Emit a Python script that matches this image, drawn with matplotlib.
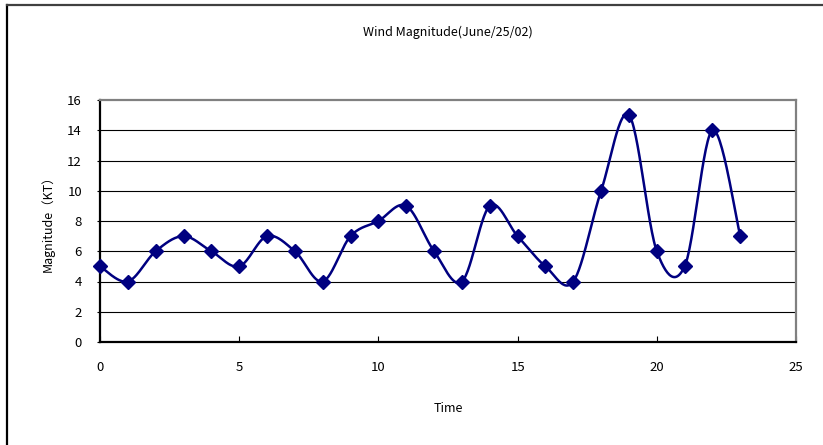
import numpy as np
import matplotlib
matplotlib.use("Agg")
import matplotlib.pyplot as plt
from matplotlib.lines import Line2D

plt.rcParams['font.family'] = ['Noto Sans CJK JP', 'DejaVu Sans']

hours = list(range(24))
magnitude = [5, 4, 6, 7, 6, 5, 7, 6, 4, 7, 8, 9, 6, 4, 9, 7, 5, 4, 10, 15, 6, 5, 14, 7]
x_ticks = [0, 5, 10, 15, 20, 25]
y_ticks = [0, 2, 4, 6, 8, 10, 12, 14, 16]


def smooth(xs, ys, n=30):
    """Catmull-Rom curve through the points (spreadsheet-style smoothed line)."""
    xs = np.asarray(xs, float)
    ys = np.asarray(ys, float)
    px = np.concatenate([[xs[0]], xs, [xs[-1]]])
    py = np.concatenate([[ys[0]], ys, [ys[-1]]])
    out_x, out_y = [], []
    t = np.linspace(0, 1, n)
    for i in range(1, len(px) - 2):
        p0, p1, p2, p3 = (np.array([px[j], py[j]]) for j in (i - 1, i, i + 1, i + 2))
        c1 = p1 + (p2 - p0) / 6
        c2 = p2 - (p3 - p1) / 6
        b = ((1 - t) ** 3)[:, None] * p1 + (3 * (1 - t) ** 2 * t)[:, None] * c1 \
            + (3 * (1 - t) * t ** 2)[:, None] * c2 + (t ** 3)[:, None] * p2
        out_x.extend(b[:, 0])
        out_y.extend(b[:, 1])
    return np.array(out_x), np.array(out_y)


W, H = 823, 445
fig = plt.figure(figsize=(W / 100, H / 100), dpi=100)
fig.patch.set_facecolor('white')

# chart frame (left and top edges)
fig.add_artist(Line2D([6.5 / W, 6.5 / W], [0, 1 - 5 / H], transform=fig.transFigure,
                      color='black', lw=1.6))
fig.add_artist(Line2D([6.5 / W, 1], [1 - 5 / H, 1 - 5 / H], transform=fig.transFigure,
                      color='#404040', lw=1.6))

ax = fig.add_axes([100 / W, (H - 342) / H, 696 / W, 242 / H])
ax.set_xlim(0, 25)
ax.set_ylim(0, 16)

for y in y_ticks[1:-1]:
    ax.axhline(y, color='black', lw=0.8, zorder=1)

sx, sy = smooth(hours, magnitude)
ax.plot(sx, sy, color='#000080', lw=1.8, zorder=3)
ax.plot(hours, magnitude, linestyle='none', marker='D', markersize=7.5,
        color='#000080', zorder=4, clip_on=False)

ax.set_xticks(x_ticks)
ax.set_yticks(y_ticks)
ax.tick_params(axis='x', direction='in', length=4, width=0.8, labelsize=9.5, pad=14)
ax.tick_params(axis='y', direction='out', length=2, width=0.8, labelsize=9.5, pad=11)

for side in ('left', 'bottom'):
    ax.spines[side].set_color('black')
    ax.spines[side].set_linewidth(1.6)
for side in ('top', 'right'):
    ax.spines[side].set_color('#808080')
    ax.spines[side].set_linewidth(1.6)

ax.set_xlabel('Time', fontsize=9, labelpad=20)
ax.set_ylabel('Magnitude（KT）', fontsize=9, labelpad=9)
fig.text(0.5 * (100 + 796) / W, 1 - 32 / H, 'Wind Magnitude(June/25/02)',
         ha='center', va='center', fontsize=9)

fig.savefig('out.png', dpi=100)
